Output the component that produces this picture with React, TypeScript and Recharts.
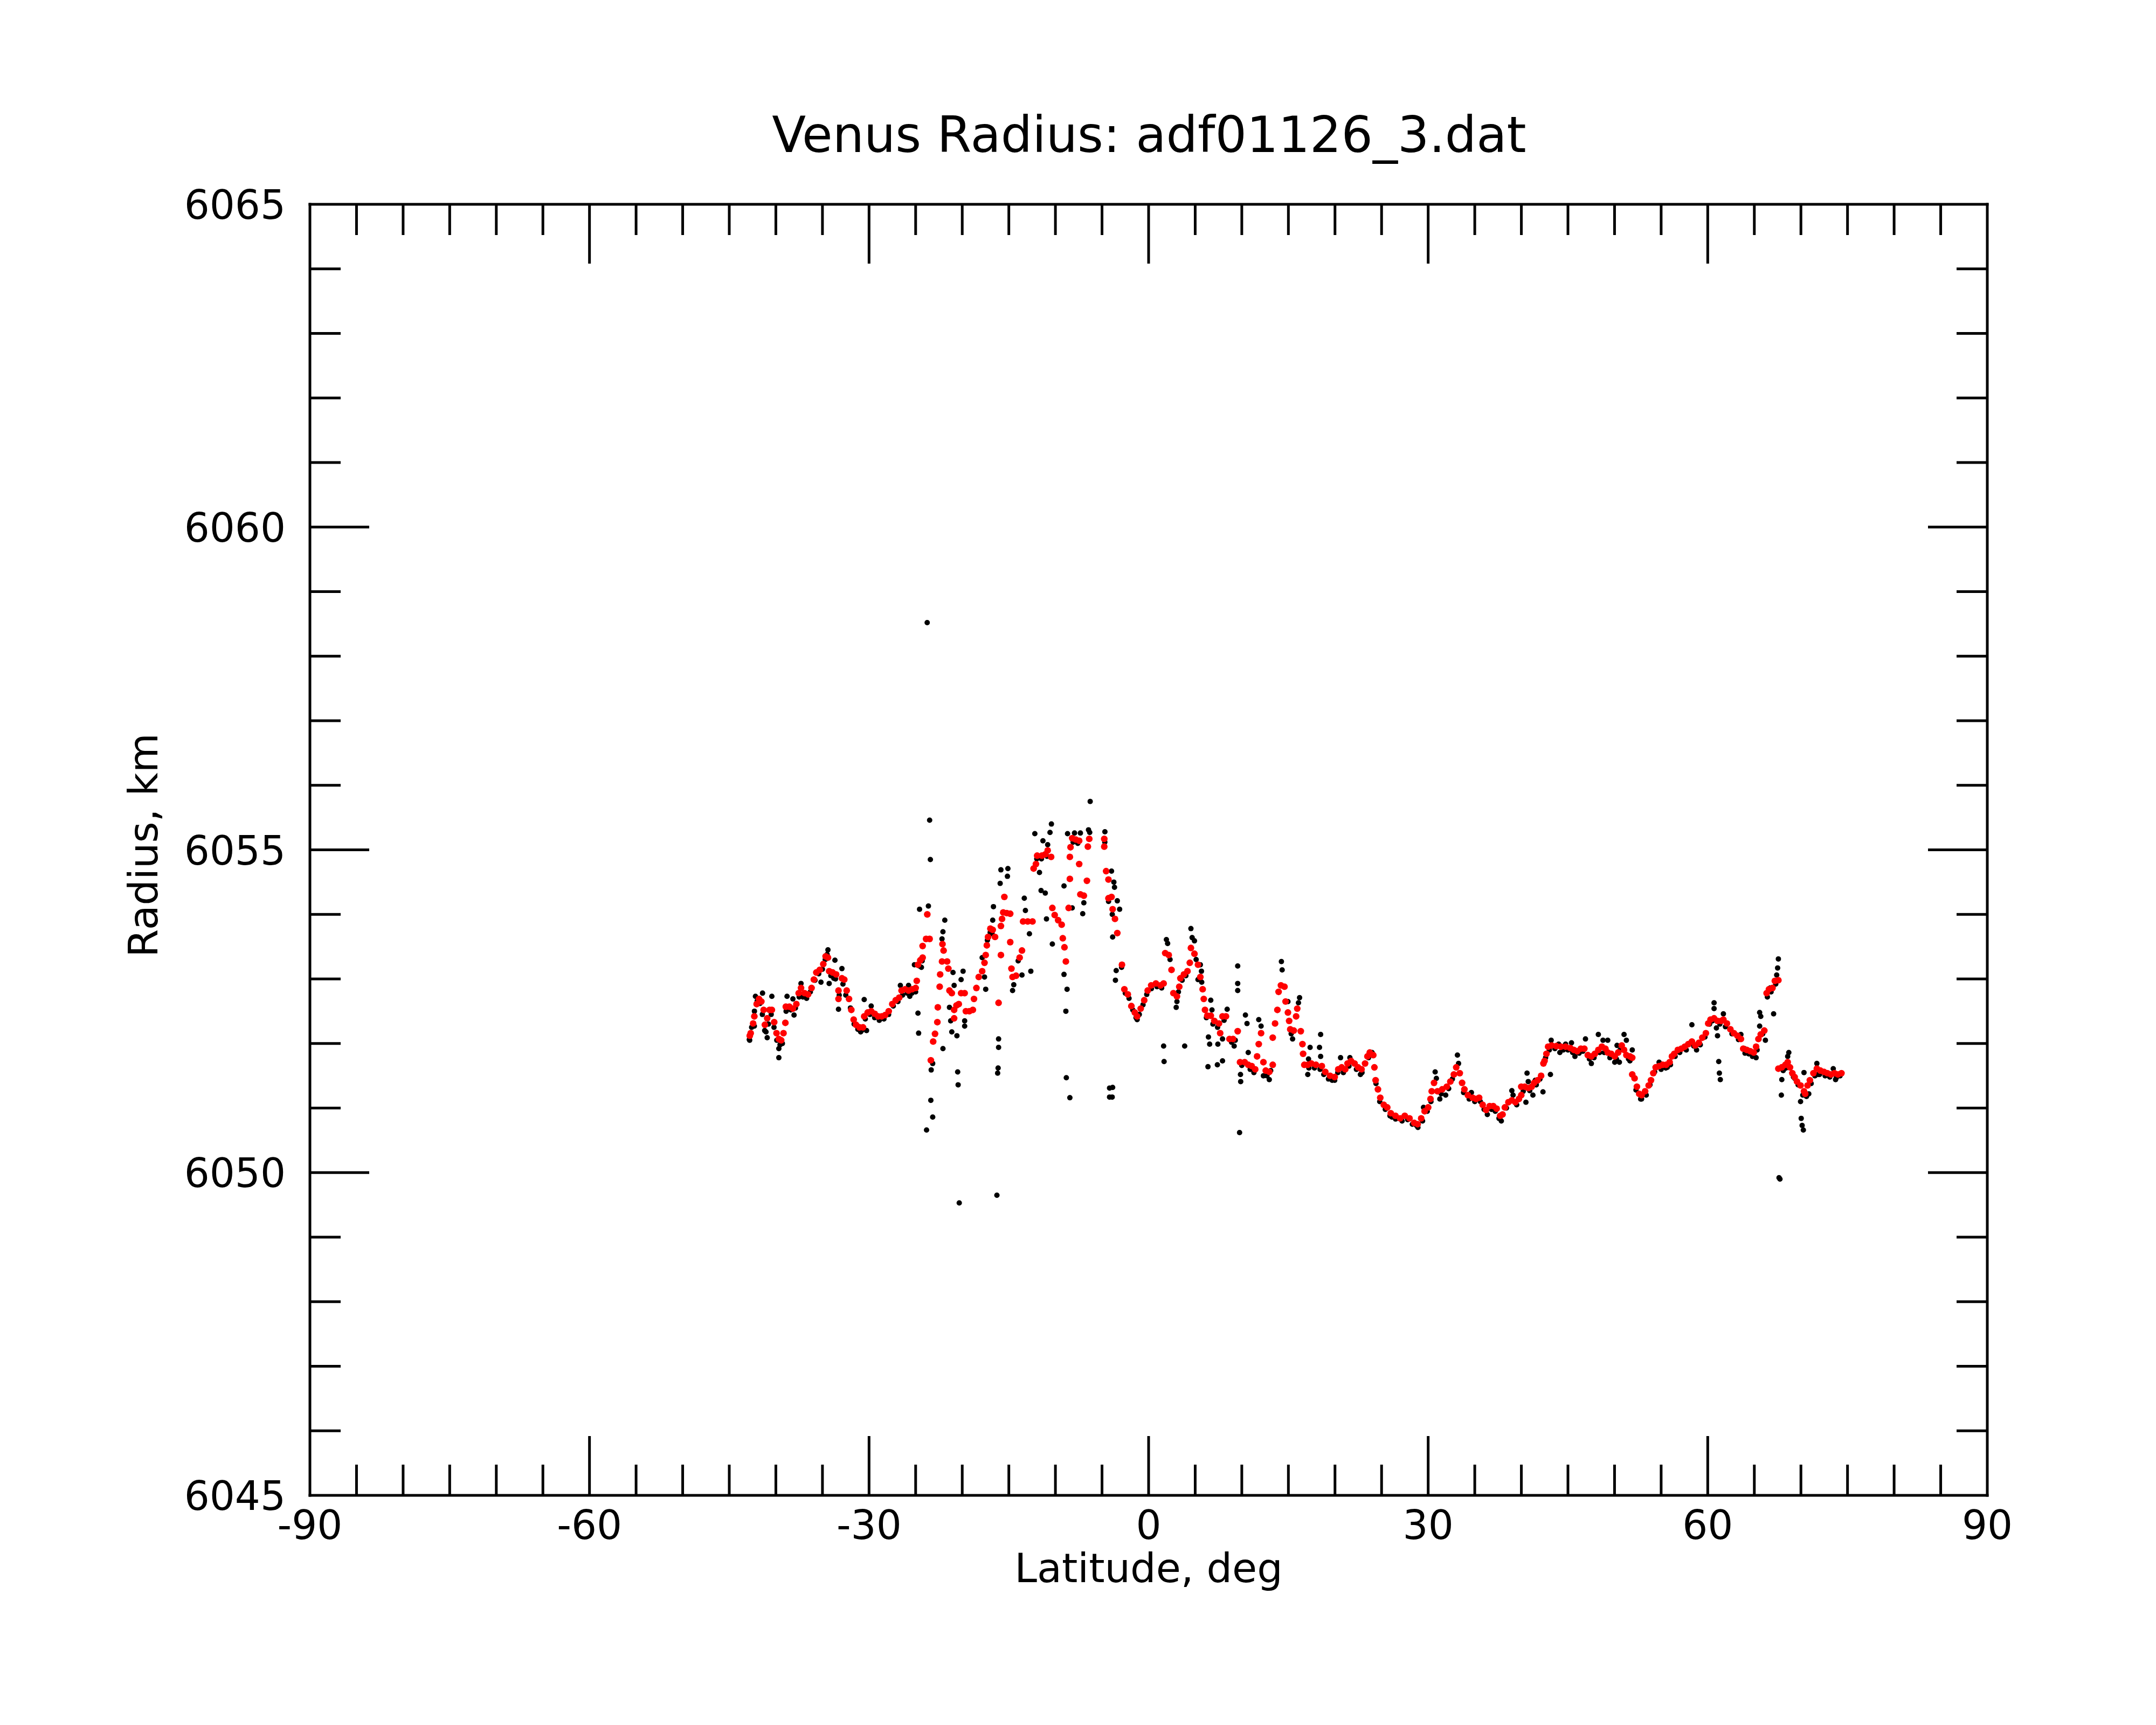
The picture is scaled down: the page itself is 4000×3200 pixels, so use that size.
import { ScatterChart, Scatter, XAxis, YAxis } from 'recharts'

type Pt = [number, number]

const W = 3984
const H = 3184
const FONT = '"DejaVu Sans", Verdana, sans-serif'
const MAJOR = 110
const MINOR = 57
const STROKE = 5

const latTicks = [
  -90, -85, -80, -75, -70, -65, -60, -55, -50, -45, -40, -35, -30, -25, -20, -15, -10, -5, 0, 5, 10, 15, 20, 25, 30,
  35, 40, 45, 50, 55, 60, 65, 70, 75, 80, 85, 90,
]
const radiusTicks = [
  6045, 6046, 6047, 6048, 6049, 6050, 6051, 6052, 6053, 6054, 6055, 6056, 6057, 6058, 6059, 6060, 6061, 6062, 6063,
  6064, 6065,
]

// smoothed radius (red), latitude in deg, radius in km
const smoothedSouth: Pt[] = [
  [-42.8, 6052.12], [-42.7, 6052.16], [-42.44, 6052.31], [-42.31, 6052.42], [-42.06, 6052.61], [-41.81, 6052.69],
  [-41.56, 6052.65], [-41.31, 6052.52], [-41.18, 6052.29], [-40.93, 6052.39], [-40.68, 6052.52], [-40.43, 6052.52],
  [-40.18, 6052.33], [-39.93, 6052.16], [-39.68, 6052.07], [-39.43, 6052.05], [-39.18, 6052.16], [-38.98, 6052.32],
  [-38.93, 6052.57], [-38.55, 6052.57], [-38.17, 6052.54], [-37.8, 6052.61], [-37.55, 6052.78], [-37.3, 6052.86],
  [-36.92, 6052.78], [-36.54, 6052.76], [-36.17, 6052.86], [-35.92, 6052.99], [-35.66, 6053.1], [-35.29, 6053.14],
  [-34.91, 6053.23], [-34.66, 6053.35], [-34.41, 6053.33], [-34.28, 6053.12], [-33.91, 6053.1], [-33.53, 6053.07],
  [-33.28, 6052.82], [-33.28, 6052.69], [-32.91, 6053.01], [-32.66, 6052.99], [-32.4, 6052.82], [-32.15, 6052.69],
  [-31.9, 6052.52], [-31.65, 6052.37], [-31.4, 6052.29], [-31.03, 6052.25], [-30.65, 6052.25], [-30.52, 6052.42],
  [-30.15, 6052.48], [-29.77, 6052.5], [-29.39, 6052.46], [-29.02, 6052.42], [-28.64, 6052.42], [-28.27, 6052.44],
  [-27.89, 6052.5], [-27.51, 6052.61], [-27.14, 6052.67], [-26.76, 6052.71], [-26.51, 6052.82], [-26.13, 6052.84],
  [-25.76, 6052.82], [-25.38, 6052.84], [-25.0, 6052.86], [-24.88, 6052.97], [-24.75, 6053.22], [-24.5, 6053.29],
  [-24.25, 6053.33], [-24.25, 6053.51],
]

const smoothedPeak: Pt[] = [
  [-23.88, 6053.62], [-23.5, 6053.62], [-23.75, 6054.0], [-23.37, 6051.74], [-23.12, 6052.03], [-22.92, 6052.15],
  [-22.67, 6052.33], [-22.62, 6052.56], [-22.42, 6052.88], [-22.37, 6053.07], [-22.17, 6053.27], [-22.0, 6053.44],
  [-22.12, 6053.54], [-21.62, 6053.27], [-21.49, 6053.16], [-21.37, 6052.82], [-21.12, 6052.78], [-20.87, 6052.52],
  [-20.87, 6052.39], [-20.62, 6052.59], [-20.37, 6052.61], [-20.12, 6052.78], [-19.74, 6052.78], [-19.61, 6052.5],
  [-19.24, 6052.5], [-18.86, 6052.52], [-18.74, 6052.69], [-18.48, 6052.86], [-18.23, 6053.03], [-17.86, 6053.12],
  [-17.61, 6053.25], [-17.48, 6053.37], [-17.36, 6053.52], [-17.23, 6053.65], [-16.98, 6053.78], [-16.73, 6053.76],
  [-16.48, 6053.65], [-16.1, 6052.63], [-15.85, 6053.37], [-15.85, 6053.82], [-15.73, 6053.93], [-15.6, 6054.03],
  [-15.48, 6054.27], [-15.22, 6054.02], [-14.85, 6054.01], [-14.85, 6053.57], [-14.72, 6053.16], [-14.6, 6053.03],
  [-14.22, 6053.05], [-13.84, 6053.33], [-13.59, 6053.44], [-13.47, 6053.89], [-12.97, 6053.89], [-12.46, 6053.89],
  [-12.34, 6054.71], [-12.09, 6054.78], [-11.96, 6054.91], [-11.46, 6054.91], [-11.09, 6054.93], [-10.83, 6054.99],
  [-10.46, 6054.89], [-10.33, 6054.1], [-10.08, 6053.99], [-9.71, 6053.91], [-9.33, 6053.84], [-9.21, 6053.63],
  [-9.03, 6053.49], [-8.88, 6053.27], [-8.58, 6054.1], [-8.45, 6054.55], [-8.45, 6054.89], [-8.38, 6055.04],
  [-8.2, 6055.18], [-7.82, 6055.16], [-7.45, 6055.14], [-7.45, 6054.78], [-7.32, 6054.31], [-6.95, 6054.29],
  [-6.62, 6054.52], [-6.52, 6055.05], [-6.37, 6055.17], [-4.76, 6055.17], [-4.76, 6055.05], [-4.56, 6054.67],
  [-4.31, 6054.54], [-4.31, 6054.25], [-3.98, 6054.27], [-3.86, 6054.08], [-3.61, 6053.93], [-3.36, 6053.71],
]

const smoothedEquator: Pt[] = [
  [-2.86, 6053.22], [-2.6, 6052.84], [-2.23, 6052.76], [-1.85, 6052.58], [-1.48, 6052.48], [-1.23, 6052.42],
  [-0.85, 6052.54], [-0.47, 6052.67], [-0.1, 6052.82], [0.28, 6052.9], [0.78, 6052.93], [1.28, 6052.9],
  [1.61, 6052.93], [1.78, 6053.4], [2.16, 6053.37], [2.46, 6053.14], [2.66, 6052.78], [3.04, 6052.73],
  [3.29, 6052.88], [3.41, 6053.01], [3.79, 6053.07], [4.17, 6053.12], [4.42, 6053.25], [4.54, 6053.48],
  [4.92, 6053.39], [5.3, 6053.22], [5.55, 6053.03], [5.8, 6052.84], [5.92, 6052.69], [6.05, 6052.52],
  [6.3, 6052.43], [6.67, 6052.43], [7.05, 6052.35], [7.55, 6052.31], [7.93, 6052.42], [8.3, 6052.42],
  [7.68, 6052.16], [8.68, 6052.07], [9.06, 6052.07], [9.56, 6052.19], [9.81, 6051.71], [10.31, 6051.71],
  [10.69, 6051.67], [11.06, 6051.65], [11.44, 6051.6], [11.64, 6051.8], [11.82, 6051.99], [12.07, 6052.16],
  [12.32, 6051.71], [12.57, 6051.58], [12.95, 6051.56], [13.32, 6051.67], [13.32, 6052.09], [13.57, 6052.31],
  [13.82, 6052.52], [13.95, 6052.8], [14.2, 6052.9], [14.58, 6052.88], [14.7, 6052.65], [14.95, 6052.48],
  [15.08, 6052.35], [15.2, 6052.22], [15.58, 6052.2], [15.95, 6052.54], [15.83, 6052.42], [16.33, 6052.19],
  [16.51, 6051.99], [16.58, 6051.84], [16.71, 6051.67], [17.08, 6051.67], [17.46, 6051.69], [17.96, 6051.67],
  [18.59, 6051.65], [18.96, 6051.56], [19.47, 6051.5], [19.97, 6051.48], [20.35, 6051.6], [20.72, 6051.63],
  [21.1, 6051.6], [21.35, 6051.69], [21.72, 6051.73], [22.1, 6051.69], [22.48, 6051.63], [22.85, 6051.6],
  [23.23, 6051.69], [23.48, 6051.8], [23.73, 6051.86], [24.11, 6051.82], [24.23, 6051.63], [24.36, 6051.43],
  [24.61, 6051.29], [24.86, 6051.16], [25.24, 6051.05], [25.61, 6051.01], [25.99, 6050.92], [26.49, 6050.88],
  [26.99, 6050.84], [27.49, 6050.88], [28.0, 6050.84], [28.5, 6050.77], [28.87, 6050.75], [29.25, 6050.84],
  [29.62, 6050.95], [30.0, 6051.01], [30.25, 6051.14], [30.38, 6051.26], [30.63, 6051.39], [31.0, 6051.26],
  [31.5, 6051.29], [32.0, 6051.33], [32.38, 6051.41], [32.76, 6051.52], [33.01, 6051.63], [33.39, 6051.54],
  [33.64, 6051.39], [33.89, 6051.29], [34.26, 6051.2], [34.77, 6051.16], [35.14, 6051.14],
]

const smoothedNorth: Pt[] = [
  [35.47, 6051.16], [35.85, 6051.05], [36.22, 6050.97], [36.6, 6051.03], [36.98, 6051.03], [37.35, 6050.99],
  [37.73, 6050.88], [37.98, 6050.9], [38.23, 6051.01], [38.61, 6051.09], [38.98, 6051.12], [39.36, 6051.09],
  [39.74, 6051.14], [39.99, 6051.2], [39.99, 6051.33], [40.36, 6051.33], [40.74, 6051.31], [41.11, 6051.33],
  [41.37, 6051.39], [41.74, 6051.43], [42.12, 6051.5], [42.37, 6051.69], [42.49, 6051.73], [42.69, 6051.84],
  [42.87, 6051.95], [43.25, 6051.97], [43.75, 6051.96], [44.25, 6051.95], [44.75, 6051.95], [45.25, 6051.93],
  [45.63, 6051.9], [46.0, 6051.88], [46.38, 6051.92], [46.76, 6051.92], [47.13, 6051.82], [47.51, 6051.8],
  [47.89, 6051.84], [48.26, 6051.9], [48.64, 6051.95], [49.02, 6051.92], [49.27, 6051.86], [49.64, 6051.84],
  [50.02, 6051.8], [50.39, 6051.86], [50.77, 6051.97], [51.02, 6051.9], [51.27, 6051.82], [51.65, 6051.8],
  [51.9, 6051.78], [51.9, 6051.52], [52.15, 6051.46], [52.4, 6051.33], [52.65, 6051.22], [52.9, 6051.2],
  [53.28, 6051.26], [53.66, 6051.35], [53.91, 6051.43], [54.16, 6051.54], [54.41, 6051.63], [54.78, 6051.65],
  [55.16, 6051.67], [55.54, 6051.67], [55.91, 6051.71], [56.16, 6051.8], [56.41, 6051.84], [56.79, 6051.9],
  [57.17, 6051.92], [57.54, 6051.95], [57.92, 6051.99], [58.3, 6052.03], [58.67, 6051.97], [59.05, 6052.01],
  [59.42, 6052.09], [59.8, 6052.16], [60.05, 6052.31], [60.3, 6052.37], [60.68, 6052.39], [61.05, 6052.35],
  [61.43, 6052.35], [61.68, 6052.37], [62.06, 6052.31], [62.43, 6052.22], [62.81, 6052.16], [63.19, 6052.12],
  [63.56, 6052.07], [63.81, 6051.92], [64.19, 6051.9], [64.57, 6051.88], [64.94, 6051.86], [65.19, 6051.95],
  [65.44, 6052.07], [65.69, 6052.14], [66.07, 6052.2], [66.32, 6052.78], [66.57, 6052.84], [66.95, 6052.86],
  [67.2, 6052.97], [67.58, 6052.98], [67.58, 6051.61], [67.95, 6051.63], [68.33, 6051.67], [68.58, 6051.71],
  [68.83, 6051.63], [69.08, 6051.54], [69.33, 6051.48], [69.58, 6051.41], [69.96, 6051.35], [70.33, 6051.26],
  [70.46, 6051.22], [70.71, 6051.35], [70.96, 6051.43], [71.34, 6051.54], [71.71, 6051.61], [72.09, 6051.58],
  [72.47, 6051.56], [72.84, 6051.54], [73.22, 6051.52], [73.59, 6051.54], [73.97, 6051.52], [74.35, 6051.54],
]

// raw radius (black) along the track
const rawTrack: Pt[] = [
  [-42.85, 6052.06], [-42.6, 6052.25], [-42.3, 6052.5], [-42.0, 6052.66], [-41.7, 6052.62], [-41.45, 6052.45],
  [-41.2, 6052.2], [-40.8, 6052.3], [-40.5, 6052.45], [-40.2, 6052.25], [-39.9, 6052.05], [-39.55, 6051.98],
  [-39.3, 6052.0], [-38.9, 6052.5], [-38.4, 6052.52], [-37.9, 6052.55], [-37.5, 6052.72], [-37.1, 6052.72],
  [-36.7, 6052.7], [-36.3, 6052.8], [-35.8, 6052.98], [-35.4, 6053.08], [-35.0, 6053.15], [-34.7, 6053.3],
  [-34.5, 6053.38], [-34.1, 6053.05], [-33.6, 6053.0], [-33.2, 6052.75], [-32.8, 6052.92], [-32.5, 6052.75],
  [-32.0, 6052.55], [-31.6, 6052.3], [-31.2, 6052.22], [-30.8, 6052.2], [-30.4, 6052.38], [-29.9, 6052.45],
  [-29.4, 6052.4], [-28.9, 6052.36], [-28.4, 6052.38], [-27.9, 6052.45], [-27.4, 6052.58], [-26.9, 6052.65],
  [-26.4, 6052.75], [-25.9, 6052.78], [-25.4, 6052.78], [-25.0, 6052.8], [-24.6, 6053.2], [-24.3, 6053.28],
  [-17.3, 6053.6], [-17.0, 6053.72], [-16.8, 6053.7], [-14.0, 6053.28], [-12.0, 6054.86], [-11.5, 6054.86],
  [-10.9, 6054.9], [-8.1, 6055.12], [-7.6, 6055.1], [-4.7, 6055.12], [-4.3, 6054.2], [-3.9, 6054.0],
  [-2.9, 6053.18], [-2.5, 6052.78], [-2.1, 6052.7], [-1.7, 6052.52], [-1.35, 6052.4], [-1.0, 6052.45],
  [-0.6, 6052.6], [-0.2, 6052.76], [0.3, 6052.85], [0.9, 6052.88], [1.4, 6052.86], [2.3, 6053.3],
  [3.2, 6052.8], [3.6, 6052.98], [4.0, 6053.05], [5.1, 6053.3], [5.7, 6052.95], [6.2, 6052.4],
  [6.9, 6052.3], [7.4, 6052.25], [8.1, 6052.36], [8.9, 6052.02], [9.3, 6052.05], [10.0, 6051.66],
  [10.9, 6051.6], [11.3, 6051.55], [12.7, 6051.5], [13.1, 6051.58], [15.3, 6052.15], [17.2, 6051.62],
  [17.8, 6051.62], [18.4, 6051.6], [18.8, 6051.52], [19.3, 6051.45], [19.7, 6051.43], [20.3, 6051.55],
  [20.9, 6051.55], [21.5, 6051.65], [22.3, 6051.6], [22.9, 6051.55], [23.6, 6051.78], [24.4, 6051.38],
  [24.8, 6051.1], [25.4, 6050.98], [25.9, 6050.88], [26.5, 6050.83], [27.2, 6050.8], [27.8, 6050.82],
  [28.3, 6050.75], [28.9, 6050.7], [29.4, 6050.8], [29.9, 6050.95], [30.3, 6051.1], [31.4, 6051.22],
  [32.2, 6051.3], [32.6, 6051.45], [33.8, 6051.24], [34.4, 6051.14], [35.0, 6051.1], [35.6, 6051.1],
  [36.0, 6050.98], [36.8, 6050.98], [37.2, 6050.95], [38.4, 6051.0], [39.5, 6051.05], [40.2, 6051.26],
  [40.9, 6051.27], [41.6, 6051.36], [42.0, 6051.45], [42.6, 6051.78], [43.0, 6051.9], [43.6, 6051.92],
  [44.5, 6051.9], [45.0, 6051.9], [45.5, 6051.86], [46.2, 6051.85], [46.6, 6051.88], [47.3, 6051.76],
  [47.8, 6051.78], [48.4, 6051.86], [49.5, 6051.78], [50.2, 6051.76], [50.6, 6051.9], [51.5, 6051.76],
  [52.3, 6051.28], [52.8, 6051.14], [53.4, 6051.2], [53.8, 6051.36], [54.3, 6051.56], [55.0, 6051.6],
  [55.5, 6051.62], [56.0, 6051.67], [56.5, 6051.8], [57.0, 6051.86], [57.7, 6051.9], [58.5, 6051.96],
  [59.2, 6051.98], [59.7, 6052.1], [60.2, 6052.3], [60.5, 6052.35], [61.3, 6052.3], [61.9, 6052.26],
  [62.6, 6052.15], [63.3, 6052.06], [64.0, 6051.85], [64.4, 6051.84], [64.8, 6051.8], [65.3, 6051.9],
  [65.9, 6052.15], [66.4, 6052.72], [66.8, 6052.8], [67.3, 6052.92], [68.1, 6051.58], [68.4, 6051.62],
  [69.2, 6051.48], [69.7, 6051.36], [70.2, 6051.2], [70.6, 6051.18], [71.1, 6051.38], [71.5, 6051.5],
  [72.0, 6051.52], [72.6, 6051.5], [73.1, 6051.48], [73.8, 6051.47], [74.2, 6051.5],
]

// raw radius (black) scattered off the track
const rawSouth: Pt[] = [
  [-42.19, 6052.73], [-41.43, 6052.78], [-40.43, 6052.73], [-40.93, 6052.09], [-41.06, 6052.18], [-39.68, 6051.78],
  [-39.68, 6051.92], [-38.8, 6052.73], [-38.17, 6052.69], [-38.05, 6052.44], [-37.3, 6052.93], [-35.16, 6052.95],
  [-34.41, 6053.45], [-34.28, 6052.93], [-33.66, 6053.29], [-32.91, 6053.16], [-33.28, 6052.53], [-33.78, 6053.01],
  [-30.9, 6052.18], [-30.27, 6052.2], [-30.52, 6052.68], [-29.77, 6052.58], [-28.64, 6052.39], [-26.64, 6052.9],
  [-25.76, 6052.9], [-25.63, 6052.73], [-25.13, 6053.22], [-24.38, 6053.18], [-42.81, 6052.05], [-42.31, 6052.27],
]

const rawPeak: Pt[] = [
  [-23.76, 6058.52], [-23.5, 6055.46], [-23.42, 6054.85], [-24.58, 6054.08], [-23.63, 6054.13], [-24.75, 6052.47],
  [-24.68, 6052.16], [-23.33, 6051.59], [-23.17, 6051.69], [-23.37, 6051.12], [-23.17, 6050.86], [-23.83, 6050.66],
  [-22.07, 6051.92], [-21.87, 6053.91], [-22.07, 6053.73], [-22.17, 6053.62], [-20.99, 6053.1], [-19.91, 6053.12],
  [-20.12, 6052.99], [-20.87, 6052.9], [-21.37, 6052.56], [-21.24, 6052.35], [-21.12, 6052.18], [-20.57, 6052.12],
  [-19.74, 6052.35], [-19.74, 6052.27], [-20.49, 6051.56], [-20.44, 6051.36], [-20.32, 6049.53], [-16.28, 6049.65],
  [-16.1, 6052.07], [-16.1, 6051.94], [-16.15, 6051.62], [-16.2, 6051.54], [-16.65, 6054.12], [-16.73, 6053.91],
  [-15.85, 6054.69], [-15.1, 6054.71], [-15.15, 6054.59], [-15.93, 6054.48], [-17.86, 6053.33], [-17.61, 6053.03],
  [-17.48, 6052.84], [-15.85, 6053.37], [-13.34, 6054.25], [-13.22, 6054.06], [-12.79, 6053.7], [-12.64, 6053.12],
  [-13.59, 6053.06], [-14.6, 6052.82], [-14.47, 6052.91], [-12.21, 6055.25], [-11.71, 6054.65], [-11.54, 6054.37],
  [-11.09, 6054.33], [-10.96, 6053.93], [-10.58, 6055.27], [-10.43, 6055.4], [-11.34, 6055.14], [-10.83, 6055.08],
  [-10.33, 6053.54], [-9.08, 6054.44], [-9.08, 6053.07], [-8.75, 6052.84], [-8.88, 6052.5], [-8.83, 6051.47],
  [-8.45, 6051.16], [-8.7, 6055.25], [-7.95, 6055.26], [-7.32, 6055.26], [-8.2, 6054.1], [-7.07, 6054.01],
  [-6.95, 6054.18], [-6.27, 6055.75], [-6.45, 6055.31], [-6.32, 6055.27], [-4.69, 6055.28], [-4.19, 6051.31],
  [-4.19, 6051.17],
]

const rawEquator: Pt[] = [
  [-3.98, 6054.67], [-3.73, 6054.5], [-3.66, 6054.42], [-3.36, 6054.21], [-3.11, 6054.08], [-3.86, 6053.65],
  [-3.48, 6053.13], [-3.56, 6052.98], [-3.86, 6051.32], [-3.91, 6051.17], [-1.23, 6052.37], [1.61, 6051.96],
  [1.66, 6051.72], [3.87, 6051.96], [1.91, 6053.61], [2.04, 6053.55], [3.04, 6052.65], [2.96, 6052.56],
  [4.54, 6053.78], [4.67, 6053.64], [4.92, 6053.59], [5.55, 6053.22], [5.67, 6053.12], [5.3, 6052.99],
  [6.67, 6052.67], [6.8, 6052.52], [8.43, 6052.53], [7.93, 6052.07], [7.43, 6051.99], [6.42, 6052.1],
  [6.55, 6051.99], [6.37, 6051.64], [7.38, 6051.67], [7.93, 6051.73], [9.18, 6051.96], [9.56, 6053.2],
  [9.56, 6052.93], [9.56, 6052.82], [10.39, 6052.44], [10.56, 6052.31], [10.69, 6051.86], [9.86, 6051.52],
  [9.88, 6051.41], [9.76, 6050.62], [11.82, 6052.37], [12.07, 6052.27], [12.32, 6051.5], [12.95, 6051.44],
  [14.25, 6053.27], [14.33, 6053.14], [14.95, 6052.65], [15.45, 6052.07], [16.2, 6052.71], [16.08, 6052.63],
  [17.33, 6051.94], [18.46, 6052.14], [18.34, 6051.94], [18.46, 6051.8], [17.16, 6051.76], [17.08, 6051.52],
  [20.6, 6051.78], [21.6, 6051.78], [22.73, 6051.52], [19.97, 6051.43], [29.5, 6051.01], [30.75, 6051.56],
  [30.88, 6051.46], [31.25, 6051.14], [31.88, 6051.2], [33.14, 6051.82], [33.26, 6051.69], [34.64, 6051.24],
  [23.98, 6051.86], [28.75, 6050.73], [26.11, 6050.86],
]

const rawNorth: Pt[] = [
  [36.35, 6050.9], [37.85, 6050.8], [37.6, 6050.84], [38.98, 6051.27], [39.11, 6051.2], [40.49, 6051.09],
  [39.99, 6051.33], [40.61, 6051.54], [40.74, 6051.41], [41.24, 6051.2], [41.49, 6051.43], [42.32, 6051.25],
  [43.12, 6051.52], [43.2, 6052.05], [44.0, 6051.99], [44.13, 6051.86], [44.75, 6051.99], [45.38, 6052.01],
  [45.75, 6051.8], [46.88, 6052.07], [47.51, 6051.69], [48.26, 6052.14], [48.76, 6052.05], [49.27, 6052.05],
  [48.89, 6051.86], [50.02, 6051.71], [50.52, 6051.71], [50.27, 6051.97], [51.02, 6052.14], [51.27, 6052.05],
  [51.9, 6051.9], [51.65, 6051.73], [52.9, 6051.14], [54.78, 6051.71], [55.66, 6051.63], [58.3, 6052.29],
  [58.8, 6051.9], [60.68, 6052.63], [60.68, 6052.54], [60.93, 6052.24], [61.05, 6052.12], [61.18, 6051.72],
  [61.25, 6051.54], [61.35, 6051.44], [61.68, 6052.46], [63.56, 6052.14], [63.94, 6051.92], [65.19, 6051.78],
  [65.57, 6052.48], [65.69, 6052.42], [65.57, 6052.27], [66.19, 6052.05], [67.07, 6052.46], [67.58, 6053.31],
  [67.5, 6053.17], [67.4, 6053.06], [66.7, 6052.86], [67.75, 6049.9], [67.65, 6049.92], [67.95, 6051.44],
  [67.9, 6051.2], [68.7, 6051.86], [68.58, 6051.8], [69.33, 6051.46], [69.96, 6051.1], [70.03, 6050.84],
  [70.13, 6050.73], [70.26, 6050.66], [70.33, 6051.55], [70.84, 6051.22], [71.71, 6051.69], [71.84, 6051.52],
  [73.47, 6051.61], [73.72, 6051.44],
]

const toRows = (pts: Pt[]) => pts.map(([lat, r]) => ({ lat, r }))
const rawRows = toRows([...rawTrack, ...rawSouth, ...rawPeak, ...rawEquator, ...rawNorth])
const smoothRows = toRows([...smoothedSouth, ...smoothedPeak, ...smoothedEquator, ...smoothedNorth])

const isMajorLat = (v: number) => v % 30 === 0
const isMajorRadius = (v: number) => v % 5 === 0

function BottomTick({ x, y, payload }: any) {
  const v = payload.value
  const len = isMajorLat(v) ? MAJOR : MINOR
  return (
    <g>
      {Math.abs(v) !== 90 && <line x1={x} x2={x} y1={y} y2={y - len} stroke="#000" strokeWidth={STROKE} />}
      {isMajorLat(v) && (
        <text x={x} y={y + 81} textAnchor="middle" fontSize={74} fontFamily={FONT} fill="#000">
          {String(v)}
        </text>
      )}
    </g>
  )
}

function TopTick({ x, y, payload }: any) {
  const v = payload.value
  if (Math.abs(v) === 90) return <g />
  const len = isMajorLat(v) ? MAJOR : MINOR
  return <line x1={x} x2={x} y1={y} y2={y + len} stroke="#000" strokeWidth={STROKE} />
}

function LeftTick({ x, y, payload }: any) {
  const v = payload.value
  const len = isMajorRadius(v) ? MAJOR : MINOR
  const edge = v === 6045 || v === 6065
  return (
    <g>
      {!edge && <line x1={x} x2={x + len} y1={y} y2={y} stroke="#000" strokeWidth={STROKE} />}
      {isMajorRadius(v) && (
        <text x={x - 45} y={y + 27} textAnchor="end" fontSize={74} fontFamily={FONT} fill="#000">
          {String(v)}
        </text>
      )}
    </g>
  )
}

function RightTick({ x, y, payload }: any) {
  const v = payload.value
  if (v === 6045 || v === 6065) return <g />
  const len = isMajorRadius(v) ? MAJOR : MINOR
  return <line x1={x} x2={x - len} y1={y} y2={y} stroke="#000" strokeWidth={STROKE} />
}

const frame = { stroke: '#000', strokeWidth: STROKE, strokeLinecap: 'square' as const }

export default function App() {
  return (
    <div style={{ position: 'relative', width: W, height: H, background: '#fff' }}>
      <ScatterChart width={W} height={H} margin={{ top: 361, right: 205, bottom: 318, left: 467 }}>
        <XAxis
          type="number"
          dataKey="lat"
          domain={[-90, 90]}
          ticks={latTicks}
          interval={0}
          tickSize={0}
          tickMargin={0}
          height={100}
          axisLine={frame}
          tick={(p: any) => <BottomTick {...p} />}
          allowDataOverflow
        />
        <XAxis
          xAxisId="top"
          orientation="top"
          type="number"
          dataKey="lat"
          domain={[-90, 90]}
          ticks={latTicks}
          interval={0}
          tickSize={0}
          tickMargin={0}
          height={10}
          axisLine={frame}
          tick={(p: any) => <TopTick {...p} />}
          allowDataOverflow
        />
        <YAxis
          type="number"
          dataKey="r"
          domain={[6045, 6065]}
          ticks={radiusTicks}
          interval={0}
          tickSize={0}
          tickMargin={0}
          width={100}
          axisLine={frame}
          tick={(p: any) => <LeftTick {...p} />}
          allowDataOverflow
        />
        <YAxis
          yAxisId="right"
          orientation="right"
          type="number"
          dataKey="r"
          domain={[6045, 6065]}
          ticks={radiusTicks}
          interval={0}
          tickSize={0}
          tickMargin={0}
          width={100}
          axisLine={frame}
          tick={(p: any) => <RightTick {...p} />}
          allowDataOverflow
        />
        <Scatter
          data={rawRows}
          fill="#000"
          isAnimationActive={false}
          shape={(p: any) => <circle cx={p.cx} cy={p.cy} r={5} fill="#000" />}
        />
        <Scatter
          data={smoothRows}
          fill="#ff0000"
          isAnimationActive={false}
          shape={(p: any) => <circle cx={p.cx} cy={p.cy} r={6.2} fill="#ff0000" />}
        />
      </ScatterChart>
      <svg
        width={W}
        height={H}
        style={{ position: 'absolute', left: 0, top: 0, pointerEvents: 'none' }}
        fontFamily={FONT}
      >
        <text x={2124} y={274} textAnchor="middle" fontSize={92} fill="#000">
          Venus Radius: adf01126_3.dat
        </text>
        <text x={2123} y={2927} textAnchor="middle" fontSize={75} fill="#000">
          Latitude, deg
        </text>
        <text x={284} y={1560} textAnchor="middle" fontSize={75} fill="#000" transform="rotate(-90 284 1560)">
          Radius, km
        </text>
      </svg>
    </div>
  )
}
